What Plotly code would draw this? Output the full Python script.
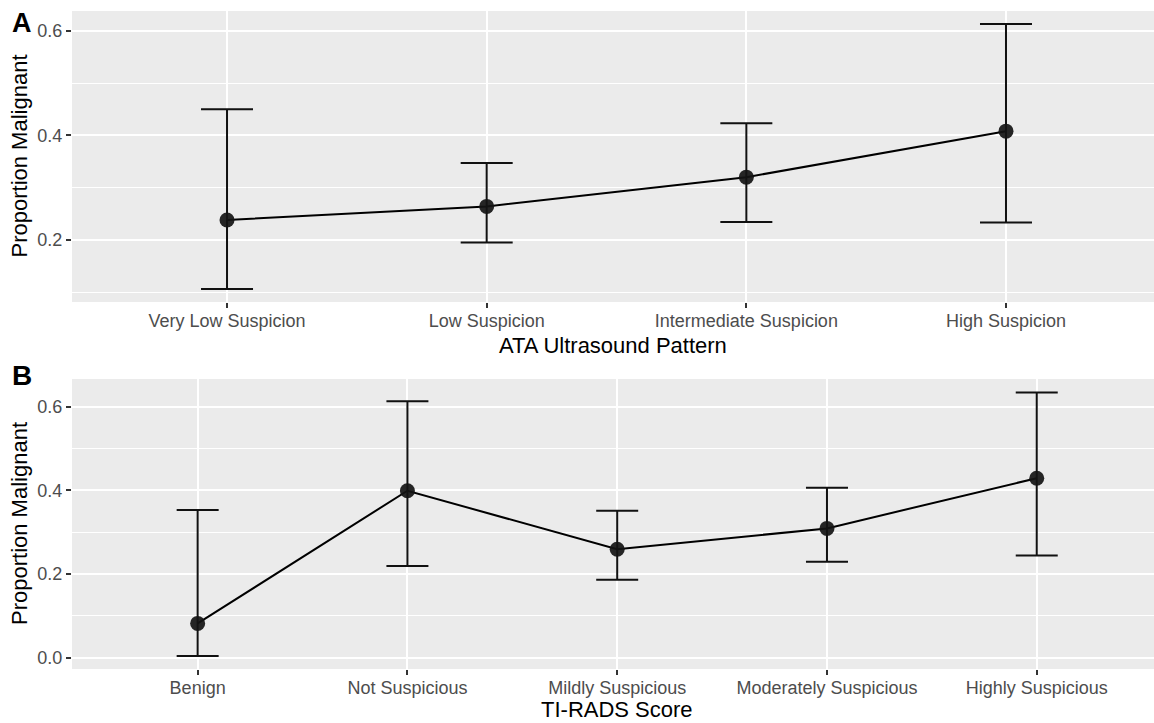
import plotly.graph_objects as go

# ---------------- data ----------------
ata_cats = ["Very Low Suspicion", "Low Suspicion", "Intermediate Suspicion", "High Suspicion"]
ata_prop = [0.238, 0.264, 0.320, 0.408]
ata_lower = [0.106, 0.195, 0.234, 0.233]
ata_upper = [0.450, 0.347, 0.423, 0.613]

tirads_cats = ["Benign", "Not Suspicious", "Mildly Suspicious", "Moderately Suspicious", "Highly Suspicious"]
tirads_prop = [0.082, 0.399, 0.259, 0.309, 0.429]
tirads_lower = [0.004, 0.219, 0.186, 0.229, 0.244]
tirads_upper = [0.353, 0.613, 0.351, 0.406, 0.634]

# ---------------- style ----------------
W, H = 1154, 723
FONT = "Liberation Sans, Arial, Helvetica, sans-serif"
PANEL_BG = "#EBEBEB"
TICK_COLOR = "#4D4D4D"


def px_x(p):
    return p / W


def px_y(p):
    return 1 - p / H


def make_trace(cats, prop, lower, upper, xa, ya, capw):
    return go.Scatter(
        x=cats, y=prop, xaxis=xa, yaxis=ya,
        mode="lines+markers",
        line=dict(color="black", width=2),
        marker=dict(size=15, color="rgba(20,20,20,0.92)"),
        error_y=dict(
            type="data", symmetric=False,
            array=[u - p for u, p in zip(upper, prop)],
            arrayminus=[p - l for p, l in zip(prop, lower)],
            color="#111111", thickness=2, width=capw,
        ),
        showlegend=False, hoverinfo="skip",
    )


fig = go.Figure()
fig.add_trace(make_trace(ata_cats, ata_prop, ata_lower, ata_upper, "x", "y", 26))
fig.add_trace(make_trace(tirads_cats, tirads_prop, tirads_lower, tirads_upper, "x2", "y2", 21))

xcommon = dict(
    type="category", showgrid=True, gridcolor="white", gridwidth=2,
    zeroline=False, showline=False,
    ticks="outside", ticklen=5, tickwidth=1.5, tickcolor="#333333",
    tickfont=dict(family=FONT, size=18, color=TICK_COLOR),
    ticklabelstandoff=-3,
    automargin=False,
)
ycommon = dict(
    showgrid=True, gridcolor="white", gridwidth=2,
    zeroline=False, showline=False,
    ticks="outside", ticklen=5, tickwidth=1.5, tickcolor="#333333",
    tickfont=dict(family=FONT, size=18, color=TICK_COLOR),
    tickformat=".1f",
    minor=dict(dtick=0.1, tick0=0, showgrid=True, gridcolor="white", gridwidth=1, ticks=""),
    automargin=False,
)

fig.update_layout(
    width=W, height=H,
    margin=dict(l=0, r=0, t=0, b=0),
    paper_bgcolor="white", plot_bgcolor=PANEL_BG,
    xaxis=dict(xcommon, domain=[px_x(72), 1.0], range=[-0.597, 3.57], anchor="y"),
    yaxis=dict(ycommon, domain=[px_y(302), px_y(11)], range=[0.081, 0.638],
               tickvals=[0.2, 0.4, 0.6], anchor="x"),
    xaxis2=dict(xcommon, domain=[px_x(72), 1.0], range=[-0.599, 4.559], anchor="y2"),
    yaxis2=dict(ycommon, domain=[px_y(669), px_y(379)], range=[-0.027, 0.666],
                tickvals=[0.0, 0.2, 0.4, 0.6], anchor="x2"),
)

annotations = [
    # panel letters
    dict(text="<b>A</b>", x=px_x(21.5), y=px_y(23), xref="paper", yref="paper",
         xanchor="center", yanchor="middle", showarrow=False,
         font=dict(family=FONT, size=27, color="black")),
    dict(text="<b>B</b>", x=px_x(22), y=px_y(375), xref="paper", yref="paper",
         xanchor="center", yanchor="middle", showarrow=False,
         font=dict(family=FONT, size=28, color="black")),
    # y titles
    dict(text="Proportion Malignant", x=px_x(19), y=px_y(156.5), xref="paper", yref="paper",
         xanchor="center", yanchor="middle", textangle=-90, showarrow=False,
         font=dict(family=FONT, size=22, color="black")),
    dict(text="Proportion Malignant", x=px_x(19), y=px_y(524), xref="paper", yref="paper",
         xanchor="center", yanchor="middle", textangle=-90, showarrow=False,
         font=dict(family=FONT, size=22, color="black")),
    # x titles
    dict(text="ATA Ultrasound Pattern", x=px_x(613), y=px_y(345), xref="paper", yref="paper",
         xanchor="center", yanchor="middle", showarrow=False,
         font=dict(family=FONT, size=22, color="black")),
    dict(text="TI-RADS Score", x=px_x(617), y=px_y(709), xref="paper", yref="paper",
         xanchor="center", yanchor="middle", showarrow=False,
         font=dict(family=FONT, size=22, color="black")),
]
fig.update_layout(annotations=annotations)

fig.write_html(
    "out.html",
    config={"displayModeBar": False},
    post_script="document.body.style.margin='0';document.body.style.padding='0';document.body.style.overflow='hidden';",
)
